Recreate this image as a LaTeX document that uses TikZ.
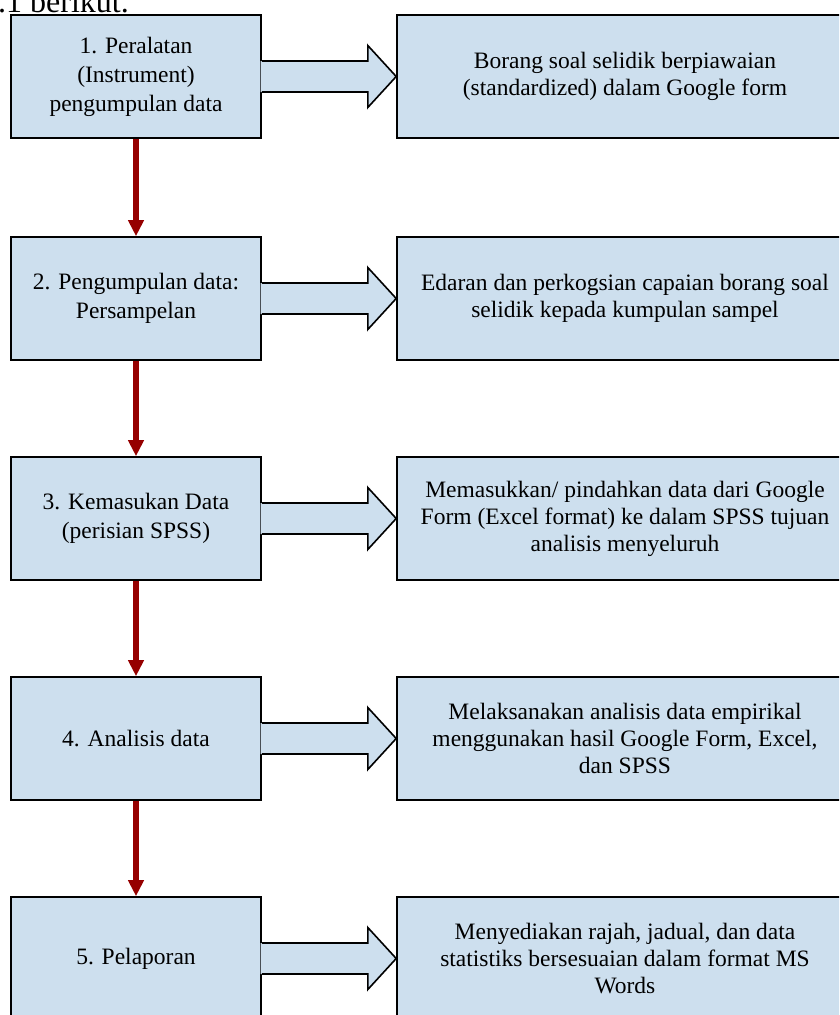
\documentclass[tikz,border=0pt]{standalone}
\usepackage{fontspec}
\setmainfont{Liberation Serif}
\usetikzlibrary{arrows.meta,calc}
\definecolor{boxblue}{RGB}{205,223,238}
\definecolor{arrred}{RGB}{150,0,0}
\begin{document}
\begin{tikzpicture}[x=1pt,y=-1pt,
  box/.style={draw=black, line width=1.6pt, fill=boxblue, minimum height=123pt,
    inner sep=0pt, align=center},
  leftbox/.style={box, minimum width=250pt, font=\fontsize{23.5}{29}\selectfont},
  rightbox/.style={box, minimum width=456pt, font=\fontsize{23.5}{27}\selectfont},
  downarrow/.style={draw=arrred, line width=6pt, -{Triangle[width=15pt,length=16pt]}},
  blockfill/.style={fill=boxblue},
  blockline/.style={draw=black, line width=1.6pt, line join=miter},
]
\useasboundingbox (0,0) rectangle (839,1015);
\clip (0,0) rectangle (839,1015);

\node[anchor=base west, inner sep=0pt, font=\fontsize{32}{34}\selectfont] (cap) at (-2,12) {.1 berikut.};

\node[leftbox] (L1) at (136,76.5) {1. Peralatan\\(Instrument)\\pengumpulan data};
\node[leftbox] (L2) at (136,298.5) {2. Pengumpulan data:\\Persampelan};
\node[leftbox] (L3) at (136,518.5) {3. Kemasukan Data\\(perisian SPSS)};
\node[leftbox] (L4) at (136,738.5) {4. Analisis data};
\node[leftbox] (L5) at (136,958.5) {5. Pelaporan};

\node[rightbox] (R1) at (625,76.5) {Borang soal selidik berpiawaian\\(standardized) dalam Google form};
\node[rightbox] (R2) at (625,298.5) {Edaran dan perkogsian capaian borang soal\\selidik kepada kumpulan sampel};
\node[rightbox] (R3) at (625,518.5) {Memasukkan/ pindahkan data dari Google\\Form (Excel format) ke dalam SPSS tujuan\\analisis menyeluruh};
\node[rightbox] (R4) at (625,738.5) {Melaksanakan analisis data empirikal\\menggunakan hasil Google Form, Excel,\\dan SPSS};
\node[rightbox] (R5) at (625,958.5) {Menyediakan rajah, jadual, dan data\\statistiks bersesuaian dalam format MS\\Words};

\foreach \i in {1,...,5}{
  \fill[blockfill] ($(L\i.east)+(-1.2,-15.5)$) -- ($(L\i.east)+(106,-15.5)$) -- ($(L\i.east)+(106,-31)$)
     -- (R\i.west) -- ($(L\i.east)+(106,31)$) -- ($(L\i.east)+(106,15.5)$) -- ($(L\i.east)+(-1.2,15.5)$) -- cycle;
  \draw[blockline] ($(L\i.east)+(0,-15.5)$) -- ($(L\i.east)+(106,-15.5)$) -- ($(L\i.east)+(106,-31)$)
     -- (R\i.west) -- ($(L\i.east)+(106,31)$) -- ($(L\i.east)+(106,15.5)$) -- ($(L\i.east)+(0,15.5)$);
}

\draw[downarrow] (L1.south) -- (L2.north);
\draw[downarrow] (L2.south) -- (L3.north);
\draw[downarrow] (L3.south) -- (L4.north);
\draw[downarrow] (L4.south) -- (L5.north);
\end{tikzpicture}
\end{document}
